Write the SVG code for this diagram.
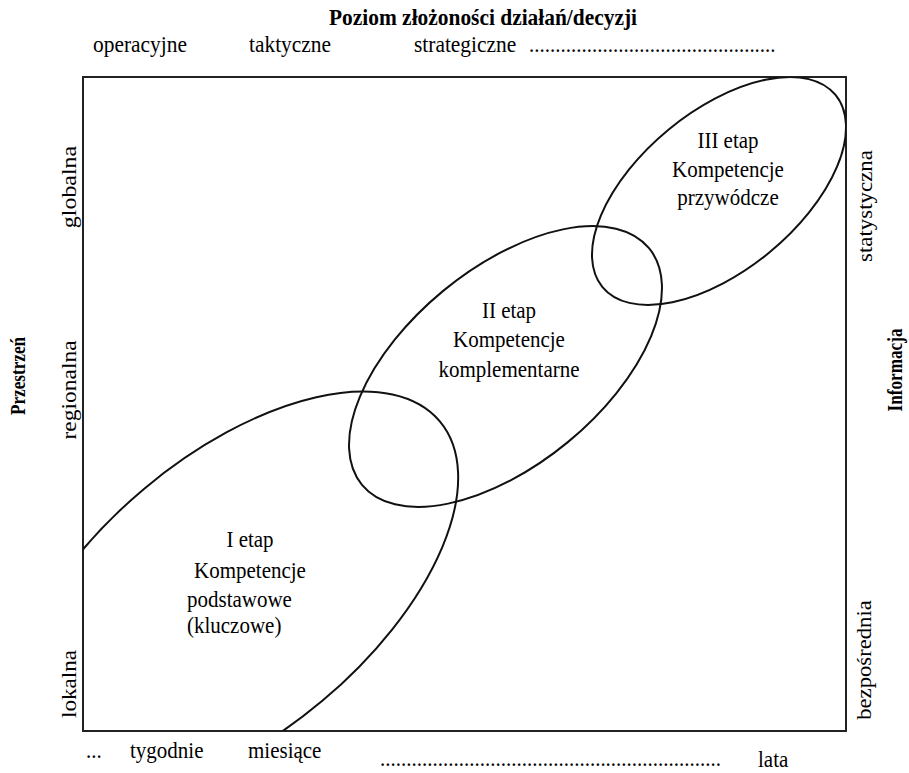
<svg xmlns="http://www.w3.org/2000/svg" width="909" height="773" viewBox="0 0 909 773">
<style>
text{font-family:"Liberation Serif","Times New Roman",serif;font-size:21px;fill:#000}
.b{font-weight:bold}
.s{font-size:20px}
.m{text-anchor:middle}
.e{fill:none;stroke:#111;stroke-width:2}
</style>
<defs>
<clipPath id="frameClip"><rect x="83" y="77" width="763" height="654"/></clipPath>
</defs>
<rect width="909" height="773" fill="#fff"/>
<g id="axis-top">
<text class="b m" transform="translate(483,25) scale(1.02,1.1)">Poziom złożoności działań/decyzji</text>
<text transform="translate(93,52) scale(1.02,1.1)">operacyjne</text>
<text transform="translate(249,52) scale(1.02,1.1)">taktyczne</text>
<text transform="translate(414,52) scale(1.02,1.1)">strategiczne</text>
<text transform="translate(529,52) scale(1,1.1)">...............................................</text>
</g>
<g id="axis-bottom">
<text transform="translate(86,758) scale(1,1.1)">...</text>
<text transform="translate(130,758) scale(1,1.1)">tygodnie</text>
<text transform="translate(248,758) scale(1,1.1)">miesiące</text>
<text transform="translate(380,766) scale(1,1.1)">.................................................................</text>
<text transform="translate(758,767) scale(1,1.1)">lata</text>
</g>
<g id="axis-left">
<text class="m" transform="translate(76,187) rotate(-90) scale(1.14,1)">globalna</text>
<text class="m" transform="translate(76,390) rotate(-90) scale(1.12,1)">regionalna</text>
<text class="m" transform="translate(76,684) rotate(-90) scale(1.1,1)">lokalna</text>
<text class="b m s" transform="translate(25,376) rotate(-90) scale(0.86,1)">Przestrzeń</text>
</g>
<g id="axis-right">
<text class="m" transform="translate(872,206) rotate(-90) scale(1.09,1)">statystyczna</text>
<text class="m" transform="translate(871,660) rotate(-90) scale(1.08,1)">bezpośrednia</text>
<text class="b m s" transform="translate(902,370) rotate(-90) scale(0.86,1)">Informacja</text>
</g>
<g id="frame">
<rect x="83" y="77" width="763" height="654" fill="none" stroke="#222" stroke-width="2"/>
</g>
<g id="connectors"/>
<g id="stage1">
<g clip-path="url(#frameClip)">
<ellipse class="e" cx="233" cy="595" rx="270" ry="138.5" transform="rotate(-40 233 595)"/>
</g>
<text class="m" transform="translate(250,547) scale(1,1.1)">I etap</text>
<text class="m" transform="translate(250,578) scale(1,1.1)">Kompetencje</text>
<text transform="translate(187,607) scale(1,1.1)">podstawowe</text>
<text transform="translate(187,633) scale(1,1.1)">(kluczowe)</text>
</g>
<g id="stage2">
<ellipse class="e" cx="505.5" cy="366.5" rx="186" ry="98" transform="rotate(-39.5 505.5 366.5)"/>
<text class="m" transform="translate(509,318) scale(1,1.1)">II etap</text>
<text class="m" transform="translate(509,347) scale(1,1.1)">Kompetencje</text>
<text class="m" transform="translate(509,377) scale(1,1.1)">komplementarne</text>
</g>
<g id="stage3">
<g clip-path="url(#frameClip)">
<ellipse class="e" cx="719" cy="191" rx="151" ry="79.5" transform="rotate(-39.5 719 191)"/>
</g>
<text class="m" transform="translate(728,148) scale(1,1.1)">III etap</text>
<text class="m" transform="translate(728,177) scale(1,1.1)">Kompetencje</text>
<text class="m" transform="translate(728,205) scale(1,1.1)">przywódcze</text>
</g>
</svg>
